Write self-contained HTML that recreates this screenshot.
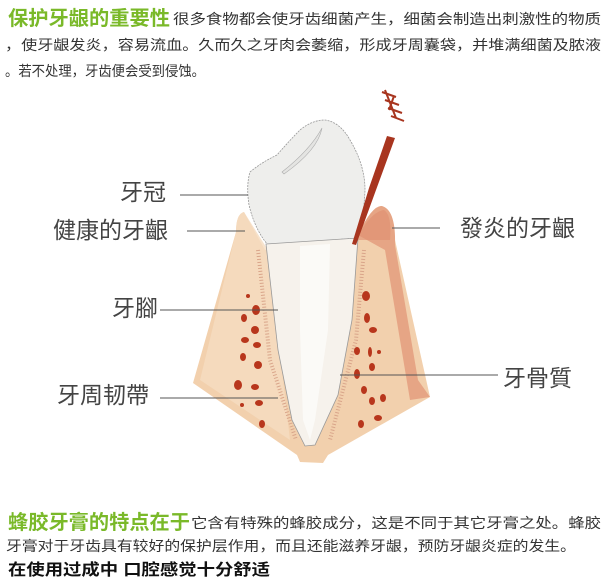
<!DOCTYPE html>
<html><head><meta charset="utf-8"><style>
html,body{margin:0;padding:0;background:#fff;}
svg{display:block;}
text{font-family:"Liberation Sans","Noto Sans CJK SC",sans-serif;}
</style></head><body>
<svg width="608" height="584" viewBox="0 0 608 584" xmlns="http://www.w3.org/2000/svg">
<rect width="608" height="584" fill="#fff"/>
<!-- top text -->
<text x="8" y="25" font-size="20" font-weight="bold" fill="#7ab929" textLength="162" lengthAdjust="spacingAndGlyphs">保护牙龈的重要性</text>
<text x="173" y="24" font-size="14" fill="#333" textLength="428" lengthAdjust="spacingAndGlyphs">很多食物都会使牙齿细菌产生，细菌会制造出刺激性的物质</text>
<text x="5" y="50" font-size="14" fill="#333" textLength="596" lengthAdjust="spacingAndGlyphs">，使牙龈发炎，容易流血。久而久之牙肉会萎缩，形成牙周囊袋，并堆满细菌及脓液</text>
<text x="5" y="76" font-size="14" fill="#333" textLength="200" lengthAdjust="spacingAndGlyphs">。若不处理，牙齿便会受到侵蚀。</text>

<!-- bone/gum -->
<path d="M244,212 Q236,214 236,232 L193,383 L297,455 L300,462 L323,463 L328,455 L430,397 L395,240 Q392,208 380,206 L360,230 L340,250 L265,250 Z" fill="#f2d0ad"/>
<path d="M244,212 Q236,214 236,232 L200,380 L290,440 L268,250 Z" fill="#f5dcc0" opacity="0.8"/>
<path d="M358,235 Q372,205 382,206 Q396,210 395,245 L418,380 L430,397 L410,400 L385,250 Z" fill="#e6a585"/>
<path d="M356,240 Q370,212 384,210 Q392,215 390,240 Z" fill="#e08e70" opacity="0.6"/>
<!-- crown -->
<path d="M250,172 Q262,162 277,155 Q290,140 300,130 Q312,120 325,120 Q340,122 350,140 Q365,165 365,190 Q364,215 358,238 L268,245 Q255,230 249,205 Q246,185 250,172 Z" fill="#eeeeec" stroke="#999" stroke-width="0.8" stroke-dasharray="2,1"/>
<path d="M282,172 Q310,150 322,128 Q318,150 284,174 Z" fill="#e4e4e2" stroke="#aaa" stroke-width="0.6"/>
<!-- root -->
<path d="M266,244 L358,238 L352,320 L338,395 L315,445 L305,446 L292,420 L278,350 Z" fill="#f6f2ec" stroke="#999" stroke-width="0.8"/>
<path d="M300,246 L330,244 L328,330 L315,420 L310,440 L303,420 L300,330 Z" fill="#fff" opacity="0.6"/>
<!-- ligament hatching -->
<path d="M258,250 L270,360 L296,440" fill="none" stroke="#d9a58a" stroke-width="4" stroke-dasharray="1,2"/>
<path d="M364,250 L356,340 L330,440" fill="none" stroke="#d9a58a" stroke-width="4" stroke-dasharray="1,2"/>
<!-- bone spots -->
<g fill="#b8361c">
<ellipse cx="256" cy="310" rx="4" ry="5"/><ellipse cx="244" cy="318" rx="3" ry="4"/><ellipse cx="255" cy="330" rx="4" ry="4"/>
<ellipse cx="245" cy="340" rx="4" ry="3"/><ellipse cx="257" cy="345" rx="4" ry="3"/><ellipse cx="243" cy="357" rx="3" ry="4"/>
<ellipse cx="258" cy="365" rx="4" ry="4"/><ellipse cx="238" cy="385" rx="4" ry="5"/><ellipse cx="255" cy="387" rx="4" ry="3"/>
<ellipse cx="259" cy="403" rx="4" ry="3"/><ellipse cx="262" cy="424" rx="3" ry="4"/><ellipse cx="242" cy="405" rx="2" ry="2"/><ellipse cx="248" cy="296" rx="2" ry="2"/>
<ellipse cx="366" cy="296" rx="4" ry="5"/><ellipse cx="367" cy="318" rx="3" ry="5"/><ellipse cx="373" cy="330" rx="4" ry="3"/>
<ellipse cx="357" cy="351" rx="3" ry="4"/><ellipse cx="370" cy="352" rx="2" ry="5"/><ellipse cx="372" cy="367" rx="3" ry="4"/>
<ellipse cx="357" cy="374" rx="3" ry="5"/><ellipse cx="364" cy="390" rx="3" ry="4"/><ellipse cx="372" cy="401" rx="3" ry="4"/>
<ellipse cx="383" cy="398" rx="3" ry="4"/><ellipse cx="378" cy="418" rx="4" ry="3"/><ellipse cx="361" cy="424" rx="3" ry="4"/><ellipse cx="379" cy="352" rx="2" ry="2"/>
</g>
<!-- probe -->
<polygon points="387,136 395,138 376,190 356,245 352,244 369,188" fill="#a8351f"/>
<g stroke="#a8351f" stroke-width="2" fill="none">
<path d="M382,92 L396,97 M385,100 L399,105 M388,108 L402,113 M391,116 L404,121 M385,90 L396,118 M394,96 L389,110"/>
</g>
<!-- leader lines -->
<g stroke="#555" stroke-width="1">
<line x1="180" y1="195" x2="248" y2="195"/>
<line x1="187" y1="231" x2="245" y2="231"/>
<line x1="160" y1="310" x2="278" y2="310"/>
<line x1="160" y1="398" x2="278" y2="398"/>
<line x1="392" y1="228" x2="440" y2="228"/>
<line x1="340" y1="375" x2="498" y2="375"/>
</g>
<g font-size="23" fill="#444">
<text x="120" y="200">牙冠</text>
<text x="53" y="238">健康的牙齦</text>
<text x="112" y="316">牙腳</text>
<text x="57" y="403">牙周韧帶</text>
<text x="460" y="236">發炎的牙齦</text>
<text x="503" y="386">牙骨質</text>
</g>
<!-- bottom text -->
<text x="8" y="529" font-size="20" font-weight="bold" fill="#7ab929" textLength="182" lengthAdjust="spacingAndGlyphs">蜂胶牙膏的特点在于</text>
<text x="191" y="528" font-size="14" fill="#333" textLength="410" lengthAdjust="spacingAndGlyphs">它含有特殊的蜂胶成分，这是不同于其它牙膏之处。蜂胶</text>
<text x="6" y="551" font-size="14" fill="#333" textLength="570" lengthAdjust="spacingAndGlyphs">牙膏对于牙齿具有较好的保护层作用，而且还能滋养牙龈，预防牙龈炎症的发生。</text>
<text x="8" y="575" font-size="16" font-weight="bold" fill="#111" textLength="262" lengthAdjust="spacingAndGlyphs">在使用过成中 口腔感觉十分舒适</text>
</svg>
</body></html>
